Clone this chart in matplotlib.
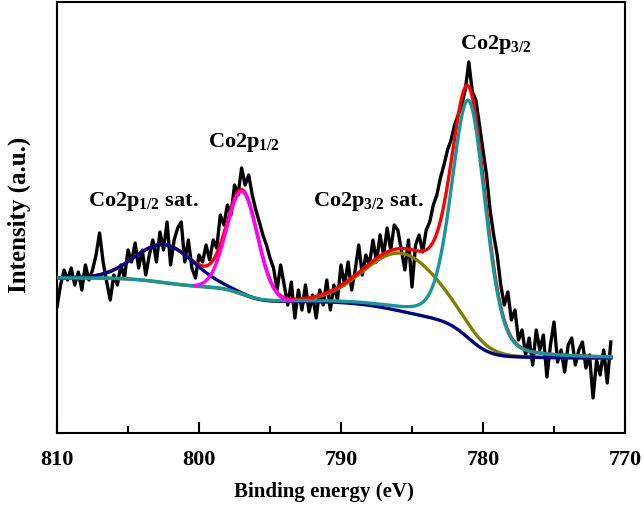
import numpy as np
import matplotlib
matplotlib.use("Agg")
import matplotlib.pyplot as plt

plt.rcParams['font.family'] = ['Liberation Serif', 'DejaVu Serif']
plt.rcParams['font.weight'] = 'bold'
plt.rcParams['mathtext.fontset'] = 'custom'
plt.rcParams['mathtext.rm'] = 'Liberation Serif:bold'
plt.rcParams['mathtext.bf'] = 'Liberation Serif:bold'
plt.rcParams['mathtext.it'] = 'Liberation Serif:bold'

# ---- raw spectrum (binding energy grid 810 -> 771 eV, 0.25 eV step) ----
energy_start, energy_end = 810.0, 771.0
raw_intensity = [
    126, 148, 163, 153, 165, 148, 161, 143, 168, 153,
    163, 178, 200, 171, 151, 133, 158, 148, 168, 155,
    183, 171, 190, 165, 183, 158, 178, 193, 171, 201,
    183, 211, 168, 193, 205, 211, 171, 193, 165, 155,
    178, 171, 188, 173, 193, 185, 218, 208, 228, 218,
    248, 238, 265, 248, 258, 238, 223, 211, 198, 188,
    175, 165, 143, 168, 148, 128, 151, 115, 143, 123,
    148, 121, 138, 115, 143, 128, 153, 123, 148, 133,
    168, 148, 171, 143, 163, 188, 158, 178, 168, 193,
    171, 198, 178, 205, 183, 208, 203, 183, 163, 193,
    146, 188, 198, 181, 203, 211, 228, 238, 255, 268,
    283, 293, 308, 318, 328, 343, 371, 341, 333, 308,
    283, 258, 223, 198, 178, 148, 128, 141, 113, 123,
    93, 103, 78, 95, 68, 103, 83, 98, 56, 88,
    111, 71, 83, 61, 88, 95, 68, 83, 91, 65,
    78, 35, 73, 58, 83, 50, 91,
]
raw_energy = np.linspace(energy_start, energy_end, len(raw_intensity))

# ---- fitted components: centre (eV), height, FWHM (eV), Lorentz fraction ----
peak_names = ["Co2p3/2", "Co2p3/2 sat.", "Co2p1/2", "Co2p1/2 sat."]
peak_centers = [781.0, 785.6, 796.95, 802.4]
peak_heights = [238, 58, 103, 38]
peak_fwhm = [2.8, 6.4, 2.55, 4.9]
peak_eta = [0.25, 0.0, 0.0, 0.0]
bg_low, bg_high = 75, 155      # Shirley background end levels

E = np.linspace(energy_start, energy_end, 2000)

def pvoigt(x, c, h, w, eta):
    s = w / (2 * np.sqrt(2 * np.log(2)))
    g = np.exp(-(x - c) ** 2 / (2 * s ** 2))
    l = 1 / (1 + ((x - c) / (w / 2)) ** 2)
    return h * ((1 - eta) * g + eta * l)

comps = [pvoigt(E, c, h, w, eta) for c, h, w, eta in
         zip(peak_centers, peak_heights, peak_fwhm, peak_eta)]
total = np.sum(comps, axis=0)
# Shirley: cumulative area from low-BE end
order = np.argsort(E)
Es = E[order]
cum = np.concatenate([[0], np.cumsum(0.5 * (total[order][1:] + total[order][:-1]) * np.diff(Es))])
frac = cum / cum[-1]
bg_sorted = bg_low + (bg_high - bg_low) * frac
bg = np.empty_like(E)
bg[order] = bg_sorted

fig = plt.figure(figsize=(6.44, 5.05), dpi=100)
ax = fig.add_axes([57 / 644, (505 - 433) / 505, (625 - 57) / 644, (433 - 2) / 505])

lw = 2.4
ax.plot(raw_energy, raw_intensity, color='black', lw=lw, zorder=1)
ax.plot(E, bg + comps[1], color='#808000', lw=lw, zorder=2)
ax.plot(E, bg + total, color='#ff0000', lw=lw, zorder=3)
ax.plot(E, bg + comps[3], color='#00008b', lw=lw, zorder=4)
ax.plot(E, bg + comps[0], color='#179797', lw=lw, zorder=5)
m = (E > 793.5) & (E < 800.3)
ax.plot(E[m], (bg + comps[2])[m], color='#ff00ff', lw=lw, zorder=6)

ax.set_xlim(810, 770)
ax.set_ylim(0, 431)
ax.set_xticks([810, 800, 790, 780, 770])
ax.set_xticks([805, 795, 785, 775], minor=True)
ax.set_yticks([])
ax.tick_params(axis='x', which='major', direction='in', length=8, width=1.5, labelsize=16, pad=12)
ax.tick_params(axis='x', which='minor', direction='in', length=5, width=1.5)
for lab in ax.get_xticklabels():
    lab.set_fontweight('bold')
for sp in ax.spines.values():
    sp.set_linewidth(1.5)

ax.set_xlabel('Binding energy (eV)', fontsize=15, fontweight='bold', labelpad=12)
ax.xaxis.set_label_coords((324 - 57) / (625 - 57), -(492 - 433) / 431, transform=ax.transAxes)
ax.xaxis.label.set_va('center')
ax.set_ylabel('Intensity (a.u.)', fontsize=18, fontweight='bold')
ax.yaxis.set_label_coords(-(57 - 19) / 568, (433 - 215) / 431)
ax.yaxis.label.set_va('center')

fs = 16
ax.text(807.8, 227, r'Co2p$_{\mathbf{1/2}}$ sat.', fontsize=fs, fontweight='bold', va='baseline')
ax.text(799.4, 286, r'Co2p$_{\mathbf{1/2}}$', fontsize=fs, fontweight='bold', va='baseline')
ax.text(792.0, 227, r'Co2p$_{\mathbf{3/2}}$ sat.', fontsize=fs, fontweight='bold', va='baseline')
ax.text(781.6, 384, r'Co2p$_{\mathbf{3/2}}$', fontsize=fs, fontweight='bold', va='baseline')

fig.savefig('out.png', dpi=100)
